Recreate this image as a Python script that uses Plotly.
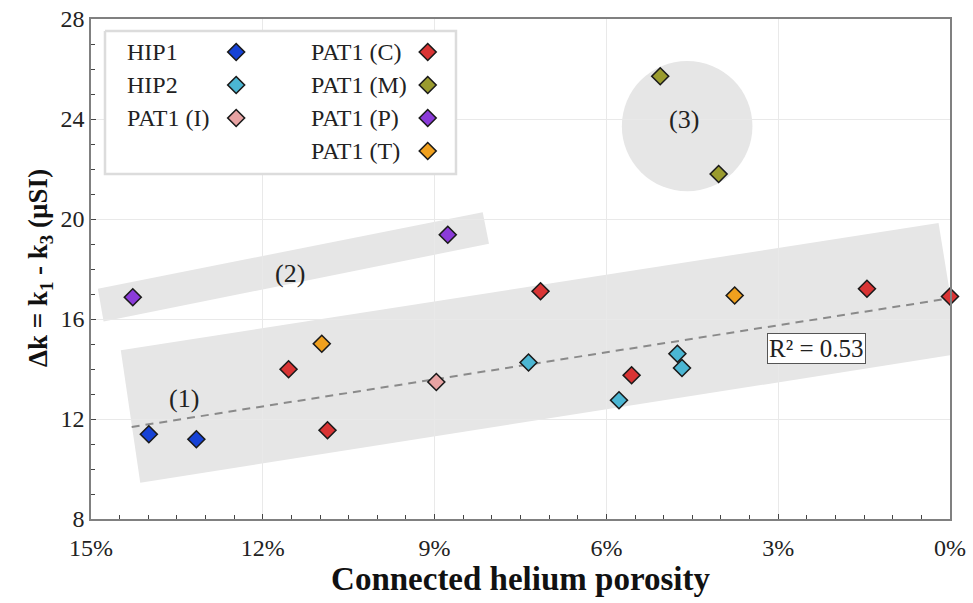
import plotly.graph_objects as go

# ---------------- data ----------------
series_names = ["HIP1", "HIP2", "PAT1 (I)", "PAT1 (C)", "PAT1 (M)", "PAT1 (P)", "PAT1 (T)"]
series_colors = ["#1642d6", "#4bb6d3", "#e8a3a3", "#d93434", "#9a9b2e", "#8b3bd9", "#f0a01e"]

hip1_x = [13.99, 13.16]
hip1_y = [11.39, 11.19]
hip2_x = [7.36, 5.78, 4.76, 4.68]
hip2_y = [14.26, 12.75, 14.61, 14.04]
pat1_i_x = [8.97]
pat1_i_y = [13.48]
pat1_c_x = [11.55, 10.87, 7.15, 5.56, 1.45, 0.0]
pat1_c_y = [13.99, 11.55, 17.11, 13.75, 17.21, 16.90]
pat1_m_x = [5.06, 4.04]
pat1_m_y = [25.71, 21.80]
pat1_p_x = [14.27, 8.77]
pat1_p_y = [16.87, 19.37]
pat1_t_x = [10.97, 3.76]
pat1_t_y = [15.01, 16.94]

series_x = [hip1_x, hip2_x, pat1_i_x, pat1_c_x, pat1_m_x, pat1_p_x, pat1_t_x]
series_y = [hip1_y, hip2_y, pat1_i_y, pat1_c_y, pat1_m_y, pat1_p_y, pat1_t_y]

trend_x = [14.29, 0.0]
trend_y = [11.68, 16.83]
r2_label = "R² = 0.53"

x_ticks = [15, 12, 9, 6, 3, 0]
y_ticks = [8, 12, 16, 20, 24, 28]

# group regions (data coordinates)
band1_x = [14.48, 0.20, -0.17, 14.14]
band1_y = [14.75, 19.84, 14.61, 9.45]
band2_x = [14.88, 8.16, 8.05, 14.78]
band2_y = [17.21, 20.27, 19.01, 15.90]
circle3_x = [5.73, 3.45]
circle3_y = [21.11, 26.32]
group_labels = ["(1)", "(2)", "(3)"]
group_label_x = [13.38, 11.53, 4.65]
group_label_y = [12.83, 17.81, 24.0]

FONT = "Liberation Serif"
MARKER_LINE = dict(color="#1a1a1a", width=1.6)

fig = go.Figure()

fig.add_trace(go.Scatter(
    x=trend_x, y=trend_y, mode="lines", showlegend=False,
    line=dict(color="#8a8a8a", width=2, dash="8px,6px")))

for name, col, xs, ys in zip(series_names, series_colors, series_x, series_y):
    fig.add_trace(go.Scatter(
        x=xs, y=ys, mode="markers", name=name, showlegend=False,
        marker=dict(symbol="diamond", size=13, color=col, line=MARKER_LINE),
        cliponaxis=False))

def poly_path(xs, ys):
    return "M " + " L ".join(f"{a},{b}" for a, b in zip(xs, ys)) + " Z"

band_fill = "#e6e6e6"
fig.add_shape(type="path", path=poly_path(band1_x, band1_y), xref="x", yref="y",
              fillcolor=band_fill, line=dict(width=0), layer="below")
fig.add_shape(type="path", path=poly_path(band2_x, band2_y), xref="x", yref="y",
              fillcolor=band_fill, line=dict(width=0), layer="below")
fig.add_shape(type="circle", x0=circle3_x[0], x1=circle3_x[1], y0=circle3_y[0], y1=circle3_y[1],
              xref="x", yref="y", fillcolor=band_fill, line=dict(width=0), layer="below")

for t, gx, gy in zip(group_labels, group_label_x, group_label_y):
    fig.add_annotation(x=gx, y=gy, text=t, showarrow=False,
                       font=dict(family=FONT, size=26, color="#222222"))

fig.add_annotation(x=2.33, y=14.83, text=r2_label, showarrow=False,
                   font=dict(family=FONT, size=25, color="#222222"),
                   bgcolor="white", bordercolor="#555555", borderwidth=1, borderpad=1)

# ---------------- custom legend (markers right of text, two columns) ----------------
leg_box_x = [0.0163, 0.4249, 0.4249, 0.0163, 0.0163]
leg_box_y = [0.976, 0.976, 0.690, 0.690, 0.976]
fig.add_trace(go.Scatter(
    x=leg_box_x, y=leg_box_y, xaxis="x2", yaxis="y2", mode="lines", fill="toself",
    fillcolor="white", line=dict(color="#dcdcdc", width=2.5), showlegend=False, hoverinfo="skip"))

leg_rows = [0.934, 0.868, 0.802, 0.736]
col_text_x = [0.040, 0.254]
col_mark_x = [0.169, 0.392]
columns = [[0, 1, 2], [3, 4, 5, 6]]
for ci, idxs in enumerate(columns):
    for ri, si in enumerate(idxs):
        fig.add_annotation(xref="paper", yref="paper", x=col_text_x[ci], y=leg_rows[ri],
                           text=series_names[si], showarrow=False, xanchor="left", yanchor="middle",
                           font=dict(family=FONT, size=24, color="#222222"))
        fig.add_trace(go.Scatter(
            x=[col_mark_x[ci]], y=[leg_rows[ri]], xaxis="x2", yaxis="y2", mode="markers",
            showlegend=False, hoverinfo="skip",
            marker=dict(symbol="diamond", size=13, color=series_colors[si], line=MARKER_LINE)))

# y-axis title as rotated annotation
fig.add_annotation(xref="paper", yref="paper", x=-0.0594, y=0.502, textangle=-90,
                   xanchor="center", yanchor="middle",
                   text="<b>Δk = k<sub>1</sub> - k<sub>3</sub> (µSI)</b>", showarrow=False,
                   font=dict(family=FONT, size=27, color="#111111"))

axis_common = dict(
    showline=True, linecolor="#808080", linewidth=1.5, mirror=True,
    showgrid=True, gridcolor="#e9e9e9", gridwidth=1, zeroline=False,
    ticks="inside", ticklen=5, tickcolor="#444444", automargin=False,
    tickfont=dict(family=FONT, size=24, color="#222222"),
)

fig.update_layout(
    width=973, height=603,
    margin=dict(l=91, r=23, t=19, b=84),
    paper_bgcolor="white", plot_bgcolor="white",
    showlegend=False,
    xaxis=dict(**axis_common, range=[15, 0], tickvals=x_ticks,
               ticktext=[f"{v}%" for v in x_ticks], ticklabelstandoff=6,
               minor=dict(dtick=0.5, ticks="inside", ticklen=4, tickcolor="#444444", showgrid=False),
               title=dict(text="<b>Connected helium porosity</b>",
                          font=dict(family=FONT, size=33, color="#111111"), standoff=6)),
    yaxis=dict(**axis_common, range=[8, 28], tickvals=y_ticks,
               minor=dict(dtick=1, ticks="inside", ticklen=4, tickcolor="#444444", showgrid=False)),
    xaxis2=dict(overlaying="x", range=[0, 1], visible=False, fixedrange=True),
    yaxis2=dict(overlaying="y", range=[0, 1], visible=False, fixedrange=True),
)

fig.write_html("out.html", config={"displayModeBar": False},
               post_script="document.body.style.margin='0';")
